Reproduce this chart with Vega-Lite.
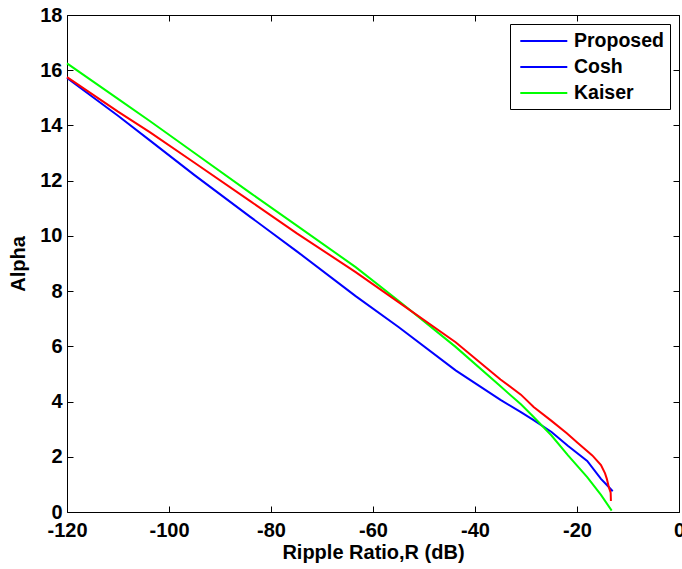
{
  "$schema": "https://vega.github.io/schema/vega-lite/v6.json",
  "width": 612,
  "height": 497,
  "autosize": "none",
  "padding": {"left": 67, "top": 15, "right": 3, "bottom": 57},
  "background": "white",
  "config": {
    "view": {"stroke": null},
    "font": "Liberation Sans",
    "axis": {
      "domainColor": "#000000",
      "domainWidth": 1,
      "tickColor": "#000000",
      "tickWidth": 1,
      "tickSize": -6,
      "grid": false,
      "labelColor": "#000000",
      "labelFont": "Liberation Sans",
      "labelFontSize": 20,
      "labelFontWeight": "bold",
      "titleColor": "#000000",
      "titleFont": "Liberation Sans",
      "titleFontSize": 20,
      "titleFontWeight": "bold"
    }
  },
  "datasets": {
    "curves": [
      {"series": "Proposed", "R": -120, "alpha": 15.72},
      {"series": "Proposed", "R": -110, "alpha": 14.35},
      {"series": "Proposed", "R": -103.7, "alpha": 13.45},
      {"series": "Proposed", "R": -95, "alpha": 12.2},
      {"series": "Proposed", "R": -84, "alpha": 10.68},
      {"series": "Proposed", "R": -75, "alpha": 9.45},
      {"series": "Proposed", "R": -63.4, "alpha": 7.82},
      {"series": "Proposed", "R": -55, "alpha": 6.7},
      {"series": "Proposed", "R": -43.8, "alpha": 5.13},
      {"series": "Proposed", "R": -35, "alpha": 4.06},
      {"series": "Proposed", "R": -31, "alpha": 3.62},
      {"series": "Proposed", "R": -28.5, "alpha": 3.33},
      {"series": "Proposed", "R": -25, "alpha": 2.9},
      {"series": "Proposed", "R": -21.8, "alpha": 2.4},
      {"series": "Proposed", "R": -18, "alpha": 1.85},
      {"series": "Proposed", "R": -15.3, "alpha": 1.2},
      {"series": "Proposed", "R": -14, "alpha": 0.95},
      {"series": "Proposed", "R": -13, "alpha": 0.75},
      {"series": "Kaiser", "R": -120, "alpha": 16.25},
      {"series": "Kaiser", "R": -110, "alpha": 14.96},
      {"series": "Kaiser", "R": -103.7, "alpha": 14.15},
      {"series": "Kaiser", "R": -95, "alpha": 13.0},
      {"series": "Kaiser", "R": -84, "alpha": 11.55},
      {"series": "Kaiser", "R": -75, "alpha": 10.38},
      {"series": "Kaiser", "R": -63.4, "alpha": 8.87},
      {"series": "Kaiser", "R": -55, "alpha": 7.65},
      {"series": "Kaiser", "R": -43.8, "alpha": 5.98},
      {"series": "Kaiser", "R": -35, "alpha": 4.55},
      {"series": "Kaiser", "R": -31, "alpha": 3.9},
      {"series": "Kaiser", "R": -28.5, "alpha": 3.44},
      {"series": "Kaiser", "R": -25, "alpha": 2.77},
      {"series": "Kaiser", "R": -21.8, "alpha": 2.06},
      {"series": "Kaiser", "R": -18, "alpha": 1.26},
      {"series": "Kaiser", "R": -15.3, "alpha": 0.62},
      {"series": "Kaiser", "R": -13.2, "alpha": 0.05},
      {"series": "Series 4", "R": -120, "alpha": 15.75},
      {"series": "Series 4", "R": -110, "alpha": 14.5},
      {"series": "Series 4", "R": -103.7, "alpha": 13.75},
      {"series": "Series 4", "R": -95, "alpha": 12.65},
      {"series": "Series 4", "R": -84, "alpha": 11.25},
      {"series": "Series 4", "R": -75, "alpha": 10.1},
      {"series": "Series 4", "R": -63.4, "alpha": 8.69},
      {"series": "Series 4", "R": -55, "alpha": 7.6},
      {"series": "Series 4", "R": -43.8, "alpha": 6.15},
      {"series": "Series 4", "R": -35, "alpha": 4.8},
      {"series": "Series 4", "R": -31, "alpha": 4.25},
      {"series": "Series 4", "R": -28.5, "alpha": 3.8},
      {"series": "Series 4", "R": -25, "alpha": 3.3},
      {"series": "Series 4", "R": -22, "alpha": 2.85},
      {"series": "Series 4", "R": -19.84, "alpha": 2.5},
      {"series": "Series 4", "R": -17, "alpha": 2.05},
      {"series": "Series 4", "R": -15.3, "alpha": 1.7},
      {"series": "Series 4", "R": -14.5, "alpha": 1.4},
      {"series": "Series 4", "R": -14.15, "alpha": 1.2},
      {"series": "Series 4", "R": -13.76, "alpha": 0.9},
      {"series": "Series 4", "R": -13.4, "alpha": 0.7},
      {"series": "Series 4", "R": -13.35, "alpha": 0.4}
    ]
  },
  "data": {"name": "curves"},
  "layer": [
    {
      "transform": [{"filter": "datum.series !== 'Series 4'"}],
      "mark": {"type": "line", "strokeWidth": 2},
      "encoding": {
        "x": {
          "field": "R", "type": "quantitative",
          "scale": {"domain": [-120, 0], "nice": false},
          "axis": {
            "orient": "bottom",
            "values": [-120, -100, -80, -60, -40, -20, 0],
            "labelExpr": "datum.value < 0 ? '-' + abs(datum.value) : '' + datum.value",
            "title": "Ripple Ratio,R (dB)",
            "labelPadding": 14,
            "titleBaseline": "middle",
            "titleY": 40,
            "labelFlush": false,
            "labelOverlap": false
          }
        },
        "y": {
          "field": "alpha", "type": "quantitative",
          "scale": {"domain": [0, 18], "nice": false},
          "axis": {
            "orient": "left",
            "values": [0, 2, 4, 6, 8, 10, 12, 14, 16, 18],
            "title": "Alpha",
            "labelPadding": 11,
            "titleBaseline": "middle",
            "titleX": -49,
            "titleY": 248.5,
            "labelFlush": false,
            "labelOverlap": false
          }
        },
        "color": {
          "field": "series", "type": "nominal",
          "scale": {"domain": ["Proposed", "Cosh", "Kaiser"], "range": ["#0000ff", "#0000ff", "#00ff00"]},
          "legend": {
            "orient": "none",
            "legendX": 443,
            "legendY": 9,
            "title": null,
            "symbolType": "M-0.67,0H4.03",
            "symbolSize": 400,
            "symbolStrokeWidth": 2,
            "symbolFillColor": "transparent",
            "labelOffset": 36,
            "labelFont": "Liberation Sans",
            "labelFontSize": 19.5,
            "labelFontWeight": "bold",
            "labelColor": "#000000",
            "rowPadding": 5,
            "padding": 6,
            "strokeColor": "#000000",
            "fillColor": "#ffffff"
          }
        }
      }
    },
    {
      "transform": [{"filter": "datum.series === 'Series 4'"}],
      "mark": {"type": "line", "strokeWidth": 2, "color": "#ff0000"},
      "encoding": {
        "x": {
          "field": "R", "type": "quantitative",
          "axis": {"orient": "top", "values": [-120, -100, -80, -60, -40, -20, 0], "labels": false, "title": null}
        },
        "y": {
          "field": "alpha", "type": "quantitative",
          "axis": {"orient": "right", "values": [0, 2, 4, 6, 8, 10, 12, 14, 16, 18], "labels": false, "title": null}
        }
      }
    }
  ],
  "resolve": {"axis": {"x": "independent", "y": "independent"}}
}
